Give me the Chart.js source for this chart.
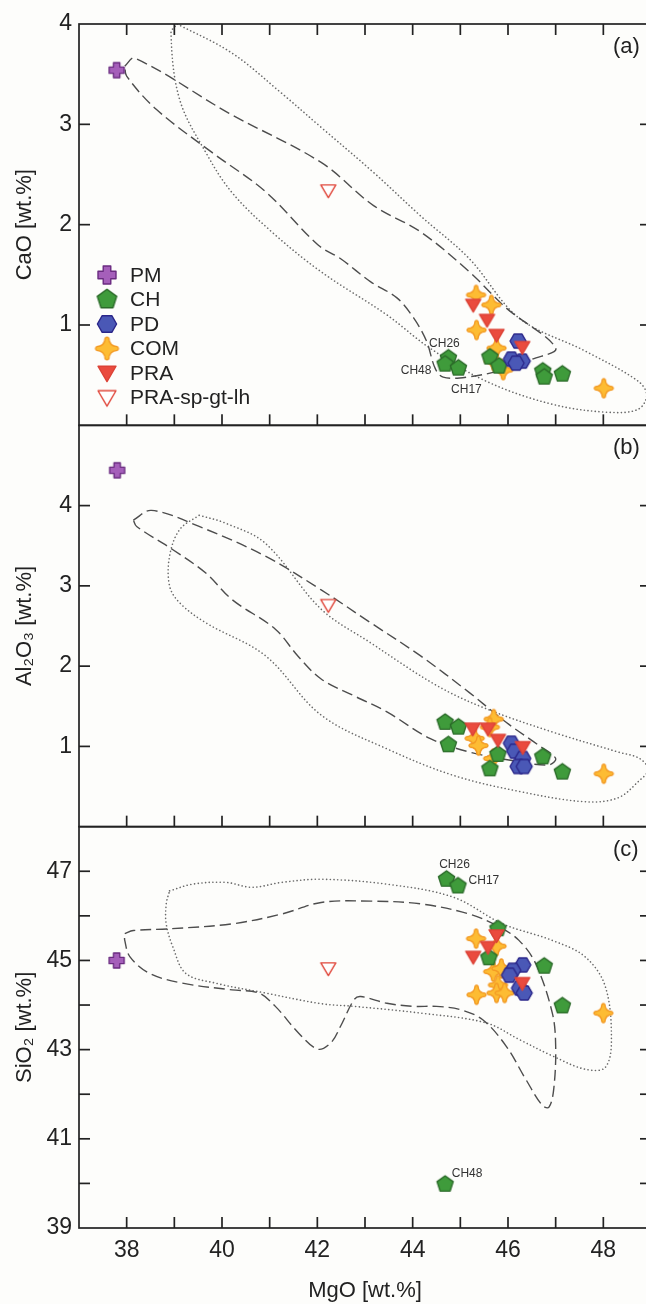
<!DOCTYPE html>
<html>
<head>
<meta charset="utf-8">
<script src="https://cdn.jsdelivr.net/npm/chart.js@4"></script>
<style>
  html, body { margin: 0; padding: 0; background: #fdfdfb; overflow: hidden; }
  #wrap { width: 660px; height: 1304px; }
</style>
</head>
<body>
<div id="wrap"><canvas id="chart" width="660" height="1304"></canvas></div>
<script>
// MgO range shared by the three panels
const mgoRange = [37, 49];

// (a) CaO vs MgO
const caoPM = [[37.79, 3.54]];
const caoCH = [[44.75, 0.67], [44.68, 0.61], [44.96, 0.57], [45.62, 0.68], [45.81, 0.59], [46.73, 0.54], [46.76, 0.48], [47.14, 0.51]];
const caoPD = [[46.21, 0.84], [46.07, 0.66], [46.30, 0.64], [46.17, 0.62]];
const caoCOM = [[45.33, 1.30], [45.65, 1.20], [45.34, 0.95], [45.76, 0.77], [45.70, 0.64], [45.90, 0.55], [48.01, 0.37]];
const caoPRA = [[45.27, 1.20], [45.56, 1.05], [45.76, 0.90], [46.30, 0.78]];
const caoPRAsp = [[42.23, 2.34]];
const caoTags = [['CH26', 0], ['CH48', 1], ['CH17', 2]];
const caoDashed = [[37.96, 3.58], [38.17, 3.66], [40.15, 3.11], [42.08, 2.62], [43.18, 2.19], [44.16, 1.93], [45.19, 1.53], [45.96, 1.17], [47.0, 0.77],
  [46.51, 0.66], [45.96, 0.56], [45.13, 0.48], [44.64, 0.48], [44.47, 0.57], [44.29, 0.84], [44.02, 1.07], [43.67, 1.27], [43.12, 1.43],
  [42.49, 1.66], [42.01, 1.80], [40.91, 2.33], [39.79, 2.72], [38.62, 3.15], [38.0, 3.48]];
const caoDotted = [[39.06, 4.0], [40.21, 3.71], [41.25, 3.31], [42.08, 2.97], [43.18, 2.52], [44.16, 2.09], [45.19, 1.66], [46.23, 1.07], [47.62, 0.74],
  [48.73, 0.44], [48.91, 0.30], [48.73, 0.16], [48.10, 0.13], [46.93, 0.21], [45.54, 0.44], [44.36, 0.77], [43.46, 1.10], [42.08, 1.53],
  [41.04, 1.93], [40.21, 2.32], [39.66, 2.72], [39.11, 3.25], [38.93, 3.91]];

// (b) Al2O3 vs MgO
const alPM = [[37.80, 4.44]];
const alCH = [[44.68, 1.30], [44.96, 1.24], [44.75, 1.02], [45.79, 0.90], [45.62, 0.72], [46.73, 0.87], [47.14, 0.68]];
const alPD = [[46.07, 1.04], [46.14, 0.94], [46.31, 0.85], [46.21, 0.75], [46.34, 0.75]];
const alCOM = [[45.70, 1.34], [45.62, 1.24], [45.30, 1.10], [45.38, 1.01], [45.69, 0.85], [48.01, 0.66]];
const alPRA = [[45.26, 1.22], [45.58, 1.22], [45.79, 1.08], [46.31, 0.99]];
const alPRAsp = [[42.23, 2.76]];
const alDashed = [[38.14, 3.82], [38.52, 3.94], [39.52, 3.74], [40.91, 3.37], [42.08, 2.95], [43.12, 2.54], [44.16, 2.13], [45.19, 1.67], [45.96, 1.30],
  [46.65, 1.01], [47.0, 0.85], [46.86, 0.77], [46.23, 0.81], [45.19, 0.93], [44.36, 1.10], [43.46, 1.43], [42.77, 1.63], [42.08, 1.84],
  [41.60, 2.12], [41.12, 2.46], [40.21, 2.83], [39.66, 3.16], [38.97, 3.45], [38.21, 3.74]];
const alDotted = [[39.52, 3.88], [40.08, 3.78], [40.91, 3.53], [42.08, 2.71], [43.12, 2.29], [44.50, 1.76], [45.54, 1.47], [46.93, 1.18], [48.31, 0.93],
  [48.76, 0.85], [48.94, 0.71], [48.73, 0.56], [48.31, 0.36], [47.62, 0.31], [46.23, 0.44], [44.85, 0.64], [43.46, 0.97], [42.08, 1.39],
  [40.91, 2.13], [39.66, 2.54], [39.11, 2.79], [38.90, 3.00], [38.90, 3.37], [39.11, 3.70]];

// (c) SiO2 vs MgO
const siPM = [[37.79, 45.0]];
const siCH = [[44.71, 46.82], [44.95, 46.67], [44.68, 39.98], [45.79, 45.71], [45.60, 45.06], [46.76, 44.87], [47.14, 43.98]];
const siPD = [[46.31, 44.90], [46.10, 44.78], [46.03, 44.67], [46.24, 44.38], [46.34, 44.27]];
const siCOM = [[45.33, 45.49], [45.76, 45.32], [45.69, 44.75], [45.86, 44.82], [45.79, 44.45], [45.76, 44.27], [45.34, 44.23], [45.93, 44.27], [48.00, 43.82]];
const siPRA = [[45.76, 45.56], [45.58, 45.30], [45.27, 45.08], [46.30, 44.49]];
const siPRAsp = [[42.23, 44.82]];
const siTags = [['CH26', 0], ['CH17', 1], ['CH48', 2]];
const siDashed = [[37.96, 45.60], [38.14, 45.67], [38.90, 45.71], [40.21, 45.82], [41.25, 46.04], [42.08, 46.30], [43.12, 46.33], [44.16, 46.27],
  [45.19, 46.04], [45.82, 45.75], [46.23, 45.45], [46.58, 44.93], [46.93, 43.82], [47.00, 43.08], [46.96, 42.12], [46.86, 41.71], [46.72, 41.75],
  [46.37, 42.34], [45.96, 43.08], [45.47, 43.67], [44.99, 43.90], [44.50, 43.97], [44.02, 43.97], [43.46, 44.04], [42.91, 44.19], [42.77, 44.12],
  [42.49, 43.53], [42.29, 43.16], [42.01, 43.01], [41.60, 43.38], [41.12, 43.97], [40.77, 44.27], [40.21, 44.34], [39.17, 44.49], [38.48, 44.71],
  [38.07, 45.08], [37.96, 45.45]];
const siDotted = [[38.90, 46.56], [39.38, 46.71], [40.08, 46.75], [40.63, 46.64], [41.25, 46.75], [42.08, 46.82], [43.46, 46.71], [44.85, 46.42],
  [45.89, 45.82], [46.93, 45.45], [47.62, 45.08], [48.04, 44.42], [48.17, 43.23], [48.04, 42.60], [47.62, 42.56], [46.93, 42.86], [46.23, 43.23],
  [45.54, 43.60], [44.16, 43.82], [42.77, 43.97], [42.08, 44.03], [40.91, 44.27], [39.87, 44.49], [39.24, 44.71], [38.97, 45.30], [38.83, 45.82],
  [38.83, 46.27]];

const groupNames = ['PM', 'CH', 'PD', 'COM', 'PRA', 'PRA-sp-gt-lh'];

const FONT = '"Liberation Sans", Arial, Helvetica, sans-serif';
const INK = '#222';
const TICK = 11;

// marker symbols, painted once into small canvases and used as pointStyle
function markerCanvas(shape, size, fill, stroke) {
  const c = document.createElement('canvas');
  c.width = c.height = Math.ceil(size + 4);
  const g = c.getContext('2d');
  const m = c.width / 2, r = size / 2;
  g.beginPath();
  if (shape === 'cross') {
    const a = r * 0.42;
    [[-a, -r], [a, -r], [a, -a], [r, -a], [r, a], [a, a], [a, r], [-a, r], [-a, a], [-r, a], [-r, -a], [-a, -a]]
      .forEach(([x, y], i) => i ? g.lineTo(m + x, m + y) : g.moveTo(m + x, m + y));
  } else if (shape === 'pentagon' || shape === 'hexagon') {
    const n = shape === 'pentagon' ? 5 : 6;
    const start = shape === 'pentagon' ? -Math.PI / 2 : 0;
    for (let i = 0; i < n; i++) {
      const t = start + i * 2 * Math.PI / n;
      g.lineTo(m + r * Math.cos(t), m + r * Math.sin(t));
    }
  } else if (shape === 'star4') {
    // four-pointed star with pinched sides and blunt tips
    const k = r * 0.2, w = r * 0.16;
    g.moveTo(m - w, m - r + 1);
    g.quadraticCurveTo(m, m - r - 1, m + w, m - r + 1);
    g.quadraticCurveTo(m + k, m - k, m + r - 1, m - w);
    g.quadraticCurveTo(m + r + 1, m, m + r - 1, m + w);
    g.quadraticCurveTo(m + k, m + k, m + w, m + r - 1);
    g.quadraticCurveTo(m, m + r + 1, m - w, m + r - 1);
    g.quadraticCurveTo(m - k, m + k, m - r + 1, m + w);
    g.quadraticCurveTo(m - r - 1, m, m - r + 1, m - w);
    g.quadraticCurveTo(m - k, m - k, m - w, m - r + 1);
  } else if (shape === 'tridown') {
    g.moveTo(m - r, m - r * 0.75);
    g.lineTo(m + r, m - r * 0.75);
    g.lineTo(m, m + r * 0.95);
  }
  g.closePath();
  g.fillStyle = fill;
  g.fill();
  g.lineWidth = 1.4;
  g.lineJoin = 'round';
  g.strokeStyle = stroke;
  g.stroke();
  return c;
}

const markStyle = {
  'PM':           ['cross',    15, '#a55fba', '#6a2b80', 1],
  'CH':           ['pentagon', 17, '#3f9b3b', '#2b6a29', 4],
  'PD':           ['hexagon',  16, '#4a58b6', '#2b278a', 3],
  'COM':          ['star4',    19, '#fdbc33', '#f39a24', 5],
  'PRA':          ['tridown',  15, '#ea4b3e', '#dc4236', 2],
  'PRA-sp-gt-lh': ['tridown',  15, '#ffffff', '#e0473b', 1]
};
const marks = {}, legendMarks = {};
groupNames.forEach(n => {
  const [shape, size, fill, stroke] = markStyle[n];
  marks[n] = markerCanvas(shape, size, fill, stroke);
  legendMarks[n] = markerCanvas(shape, size * 1.2, fill, stroke);
});

const pts = list => list.map(([x, y]) => ({x, y}));
const loop = list => pts(list.concat([list[0]]));

const panels = [
  {axis: 'ya', tag: '(a)', series: [caoPM, caoCH, caoPD, caoCOM, caoPRA, caoPRAsp], dashed: caoDashed, dotted: caoDotted, tags: caoTags},
  {axis: 'yb', tag: '(b)', series: [alPM, alCH, alPD, alCOM, alPRA, alPRAsp], dashed: alDashed, dotted: alDotted, tags: []},
  {axis: 'yc', tag: '(c)', series: [siPM, siCH, siPD, siCOM, siPRA, siPRAsp], dashed: siDashed, dotted: siDotted, tags: siTags}
];

const datasets = [];
panels.forEach(p => {
  datasets.push({
    label: p.axis + ' dashed field', data: loop(p.dashed), yAxisID: p.axis, showLine: true, tension: 0.35,
    borderColor: '#4d4d4d', borderWidth: 1.4, borderDash: [11, 5], pointRadius: 0, order: 10
  });
  datasets.push({
    label: p.axis + ' dotted field', data: loop(p.dotted), yAxisID: p.axis, showLine: true, tension: 0.35,
    borderColor: '#6a6a6a', borderWidth: 1.6, borderDash: [0.1, 3.6], borderCapStyle: 'round', pointRadius: 0, order: 10
  });
  groupNames.forEach((n, i) => {
    datasets.push({
      label: n, data: pts(p.series[i]), yAxisID: p.axis, showLine: false,
      pointStyle: marks[n], pointRadius: 8, order: markStyle[n][4]
    });
  });
});

// sample labels next to the CH points (pixel offsets of the text centre)
const tagOffset = {
  ya: {CH26: [-4, -14], CH48: [-29, 7], CH17: [8, 22]},
  yc: {CH26: [8, -15], CH17: [26, -5], CH48: [22, -11]}
};

function yAxis(id, min, max, title, show) {
  return {
    type: 'linear', position: 'left', stack: 'oxides', stackWeight: 1,
    min, max,
    grid: {display: false, drawTicks: false}, border: {display: false},
    ticks: {stepSize: 1, autoSkip: false, padding: 7, color: INK, font: {size: 23, family: FONT},
            callback: v => show(v) ? String(v) : ''},
    title: {display: true, text: title, color: INK, font: {size: 22, family: FONT}, padding: {top: 12, bottom: 0}},
    afterFit: s => { s.width = 79; }
  };
}

const framePlugin = {
  id: 'frame',
  afterDatasetsDraw(chart) {
    const {ctx, chartArea, scales} = chart;
    const x = scales.x;
    const ys = panels.map(p => scales[p.axis]);
    const topMost = Math.min(...ys.map(s => s.top));
    const line = (x1, y1, x2, y2) => { ctx.beginPath(); ctx.moveTo(x1, y1); ctx.lineTo(x2, y2); ctx.stroke(); };
    ctx.save();
    ctx.strokeStyle = INK;
    ctx.lineWidth = 1.7;
    ys.forEach(s => {
      ctx.strokeRect(chartArea.left, s.top, chartArea.right - chartArea.left, s.bottom - s.top);
      s.ticks.forEach(t => {
        if (t.value <= s.min || t.value >= s.max) return;
        const py = s.getPixelForValue(t.value);
        line(chartArea.left, py, chartArea.left + TICK, py);
        line(chartArea.right - TICK, py, chartArea.right, py);
      });
      x.ticks.forEach(t => {
        if (t.value <= x.min || t.value >= x.max) return;
        const px = x.getPixelForValue(t.value);
        line(px, s.bottom, px, s.bottom - TICK);
        if (s.top === topMost) line(px, s.top, px, s.top + TICK);
      });
    });

    // panel letters and sample names
    ctx.fillStyle = INK;
    ctx.textBaseline = 'middle';
    ctx.textAlign = 'left';
    ctx.font = '22px ' + FONT;
    panels.forEach(p => ctx.fillText(p.tag, chartArea.right - 38, scales[p.axis].top + 23));
    ctx.fillStyle = '#333';
    ctx.font = '12px ' + FONT;
    ctx.textAlign = 'center';
    panels.forEach(p => {
      const s = scales[p.axis];
      p.tags.forEach(([name, idx]) => {
        const [vx, vy] = p.series[1][idx];
        const [dx, dy] = tagOffset[p.axis][name];
        ctx.fillText(name, x.getPixelForValue(vx) + dx, s.getPixelForValue(vy) + dy);
      });
    });

    // legend inside panel (a)
    const s = scales[panels[0].axis];
    ctx.font = '21px ' + FONT;
    ctx.textAlign = 'left';
    ctx.fillStyle = INK;
    groupNames.forEach((n, i) => {
      const cy = s.top + 251 + i * 24.5;
      const img = legendMarks[n];
      ctx.drawImage(img, chartArea.left + 28 - img.width / 2, cy - img.height / 2);
      ctx.fillText(n, chartArea.left + 51, cy + 1);
    });
    ctx.restore();
  }
};

Chart.defaults.font.family = FONT;
Chart.defaults.color = INK;

new Chart(document.getElementById('chart'), {
  type: 'scatter',
  data: {datasets},
  options: {
    responsive: false,
    animation: false,
    layout: {padding: {top: 24, right: 4, bottom: 0, left: 0}},
    plugins: {legend: {display: false}, tooltip: {enabled: false}},
    scales: {
      x: {
        type: 'linear', position: 'bottom', min: mgoRange[0], max: mgoRange[1],
        grid: {display: false, drawTicks: false}, border: {display: false},
        ticks: {stepSize: 1, autoSkip: false, maxRotation: 0, padding: 9, color: INK, font: {size: 23, family: FONT},
                callback: v => v % 2 === 0 ? String(v) : ''},
        title: {display: true, text: 'MgO [wt.%]', color: INK, font: {size: 22, family: FONT}, padding: {top: 4, bottom: 0}}
      },
      yc: yAxis('yc', 39, 48, 'SiO₂ [wt.%]', v => v % 2 === 1 && v < 48),
      yb: yAxis('yb', 0, 5, 'Al₂O₃ [wt.%]', v => v >= 1 && v <= 4),
      ya: yAxis('ya', 0, 4, 'CaO [wt.%]', v => v >= 1)
    }
  },
  plugins: [framePlugin]
});
</script>
</body>
</html>
